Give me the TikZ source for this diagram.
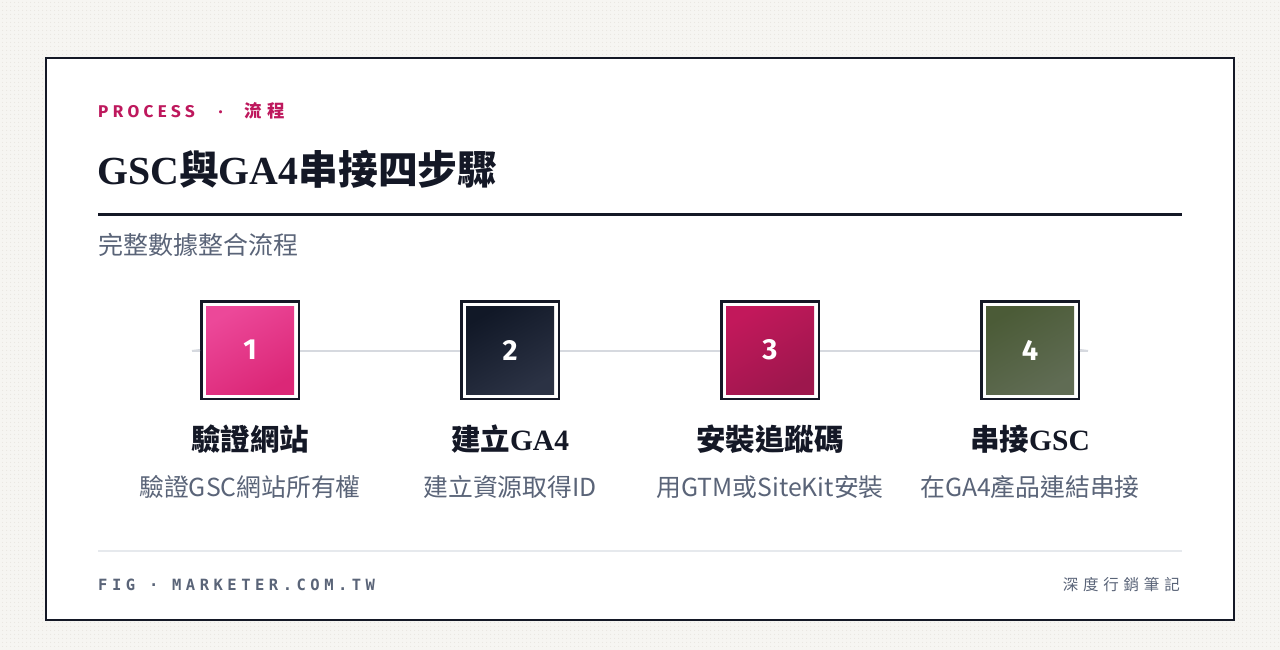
\documentclass[tikz,border=0pt]{standalone}
\usepackage{fontspec}
\setmainfont{Liberation Serif}
\newfontfamily\cjk{Noto Sans CJK TC}
\newfontfamily\kickcjk[LetterSpace=28]{Noto Sans CJK TC}
\newfontfamily\footcjk[LetterSpace=31]{Noto Sans CJK TC}
\newfontfamily\numfont{Fira Sans}
\newfontfamily\kicker[LetterSpace=26]{Fira Sans}
\newfontfamily\footmono[LetterSpace=29]{DejaVu Sans Mono}
\usetikzlibrary{patterns.meta}
\definecolor{ink}{HTML}{141826}
\definecolor{slate}{HTML}{5A6478}
\definecolor{accent}{HTML}{BE185D}
\definecolor{bgc}{HTML}{F6F5F2}
\definecolor{dotc}{HTML}{E6E3DD}
\definecolor{rulegray}{HTML}{D6D9DF}
\definecolor{footrule}{HTML}{E6E9ED}
\definecolor{pinkA}{HTML}{EC4899}\definecolor{pinkB}{HTML}{DB2777}
\definecolor{navyA}{HTML}{111827}\definecolor{navyB}{HTML}{2B3244}
\definecolor{roseA}{HTML}{C2185B}\definecolor{roseB}{HTML}{9D174D}
\definecolor{oliveA}{HTML}{4B5B37}\definecolor{oliveB}{HTML}{606C54}
\newcommand{\fs}[1]{\fontsize{#1}{#1}\selectfont}
\tikzset{
  framebox/.style={draw=ink, line width=2.5pt, fill=white, minimum size=97.5pt, inner sep=0pt},
  numbox/.style={minimum size=88pt, inner sep=0pt, text=white, font=\numfont\bfseries\fs{29}},
  steptitle/.style={anchor=base, text=ink, inner sep=0pt},
  stepsub/.style={anchor=base, text=slate, inner sep=0pt, font=\cjk\fs{24.8}},
}
\begin{document}
\begin{tikzpicture}[x=1pt,y=-1pt]
\useasboundingbox (0,0) rectangle (1280,650);
\fill[bgc] (0,0) rectangle (1280,650);
\fill[pattern={Dots[radius=0.6pt,distance=4pt]}, pattern color=dotc] (0,0) rectangle (1280,650);
% card
\draw[ink, line width=2.5pt, fill=white] (46,58) rectangle (1234,620);
% header
\node[anchor=base west, inner sep=0pt, text=accent] (kick) at (98,118)
  {\kicker\bfseries\fs{17}PROCESS\hspace{24pt}·\hspace{22pt}{\kickcjk\bfseries\fs{17.5}流程}};
\node[anchor=base west, inner sep=0pt, text=ink] (title) at (97,184)
  {\fs{39.8}{\bfseries GSC}{\cjk\bfseries 與}{\bfseries GA4}{\cjk\bfseries 串接四步驟}};
\coordinate (ruleL) at (98,214.5);
\coordinate (ruleR) at (1182,214.5);
\draw[ink, line width=2.2pt] (ruleL) -- (ruleR);
\node[anchor=base west, inner sep=0pt, text=slate] (subtitle) at (98,254)
  {\cjk\fs{25}完整數據整合流程};
% connector line
\coordinate (lineL) at (192,351);
\coordinate (lineR) at (1088,351);
\draw[rulegray, line width=2pt] (lineL) -- (lineR);
% steps
\node[framebox] (f1) at (250,350) {};
\node[numbox, top color=pinkA, bottom color=pinkB, shading angle=30] (s1) at (f1) {1};
\node[framebox] (f2) at (510,350) {};
\node[numbox, top color=navyA, bottom color=navyB, shading angle=30] (s2) at (f2) {2};
\node[framebox] (f3) at (770,350) {};
\node[numbox, top color=roseA, bottom color=roseB, shading angle=30] (s3) at (f3) {3};
\node[framebox] (f4) at (1030,350) {};
\node[numbox, top color=oliveA, bottom color=oliveB, shading angle=30] (s4) at (f4) {4};
\draw[rulegray, line width=2pt] (lineL) -- (f1.west);
\draw[rulegray, line width=2pt] (f4.east) -- (lineR);
% labels
\node[steptitle] (t1) at (250,450) {\cjk\bfseries\fs{29.5}驗證網站};
\node[stepsub] (d1) at (250,496) {驗證GSC網站所有權};
\node[steptitle] (t2) at (510,450) {\fs{29.5}{\cjk\bfseries 建立}{\bfseries GA4}};
\node[stepsub] (d2) at (510,496) {建立資源取得ID};
\node[steptitle] (t3) at (770,450) {\cjk\bfseries\fs{29.5}安裝追蹤碼};
\node[stepsub] (d3) at (770,496) {用GTM或SiteKit安裝};
\node[steptitle] (t4) at (1030,450) {\fs{29.5}{\cjk\bfseries 串接}{\bfseries GSC}};
\node[stepsub] (d4) at (1030,496) {在GA4產品連結串接};
% footer
\coordinate (footL) at (98,551);
\coordinate (footR) at (1182,551);
\draw[footrule, line width=2pt] (footL) -- (footR);
\node[anchor=base west, inner sep=0pt, text=slate] (fig) at (98,590)
  {\footmono\bfseries\fs{15.5}FIG · MARKETER.COM.TW};
\node[anchor=base east, inner sep=0pt, text=slate] (brand) at (1180,590)
  {\footcjk\fs{15.5}深度行銷筆記};
\end{tikzpicture}
\end{document}
